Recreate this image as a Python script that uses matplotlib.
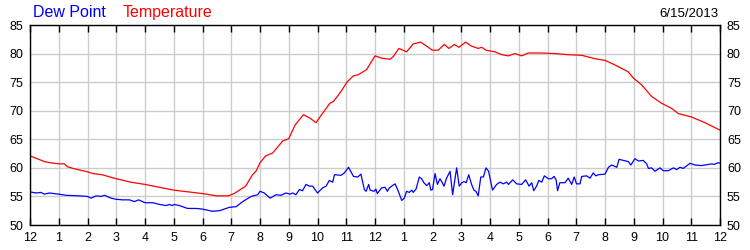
import matplotlib
matplotlib.use('Agg')
import matplotlib.pyplot as plt

plt.rcParams['font.family'] = ['Liberation Sans', 'DejaVu Sans']

hour_labels = ["12", "1", "2", "3", "4", "5", "6", "7", "8", "9", "10", "11",
               "12", "1", "2", "3", "4", "5", "6", "7", "8", "9", "10", "11", "12"]

# temperature readings (hours since midnight, deg F)
temp_hours = [0, 0.5, 0.7, 1.0, 1.2, 1.3, 1.5, 2.0, 2.2, 2.5, 3.0, 3.5, 4.0, 4.5,
              5.0, 5.5, 6.0, 6.5, 6.9, 7.1, 7.5, 7.74, 7.86, 8.0, 8.2, 8.44, 8.79,
              9.0, 9.22, 9.51, 9.74, 9.95, 10.14, 10.43, 10.55, 10.78, 11.04, 11.25,
              11.42, 11.71, 12.0, 12.23, 12.52, 12.64, 12.83, 13.1, 13.33, 13.59,
              13.74, 13.99, 14.2, 14.41, 14.57, 14.76, 14.92, 15.15, 15.36, 15.59,
              15.71, 15.86, 16.17, 16.41, 16.64, 16.87, 17.1, 17.33, 17.8, 18.26,
              18.72, 19.19, 19.65, 20.0, 20.35, 20.81, 20.99, 21.28, 21.62, 21.97,
              22.32, 22.55, 23.01, 23.48, 24.0]
temp_vals = [62.1, 61.1, 60.9, 60.7, 60.7, 60.2, 59.9, 59.3, 59.0, 58.8, 58.1, 57.5,
             57.1, 56.6, 56.1, 55.8, 55.5, 55.1, 55.1, 55.5, 56.8, 58.8, 59.4, 60.9,
             62.1, 62.6, 64.7, 65.1, 67.5, 69.3, 68.7, 67.9, 69.3, 71.3, 71.6, 73.1,
             75.1, 76.1, 76.3, 77.2, 79.6, 79.2, 79.0, 79.5, 80.9, 80.3, 81.7, 82.0,
             81.5, 80.6, 80.6, 81.6, 80.9, 81.6, 81.1, 82.0, 81.3, 80.9, 81.1, 80.6,
             80.3, 79.8, 79.6, 80.0, 79.6, 80.1, 80.1, 80.0, 79.8, 79.7, 79.1, 78.8,
             78.0, 76.8, 75.7, 74.5, 72.5, 71.3, 70.4, 69.5, 68.9, 67.9, 66.6]

# dew point readings
dew_hours = [0, 0.21, 0.38, 0.5, 0.67, 1.0, 1.25, 1.72, 2.0, 2.12, 2.3, 2.47, 2.59,
             2.82, 3.0, 3.22, 3.46, 3.63, 3.78, 4.0, 4.27, 4.5, 4.73, 4.85, 4.94,
             5.02, 5.19, 5.48, 5.77, 5.98, 6.35, 6.59, 6.94, 7.17, 7.4, 7.69, 7.92,
             8.0, 8.15, 8.35, 8.56, 8.73, 8.9, 9.04, 9.14, 9.25, 9.37, 9.48, 9.6,
             9.72, 9.83, 10.0, 10.18, 10.3, 10.41, 10.53, 10.59, 10.82, 10.93, 11.08,
             11.25, 11.4, 11.51, 11.63, 11.69, 11.78,
             11.83, 11.97, 12.03, 12.08, 12.23, 12.35, 12.43, 12.5, 12.58, 12.7,
             12.81, 12.93, 13.02, 13.1, 13.19, 13.28, 13.33, 13.43, 13.54, 13.62,
             13.7, 13.8, 13.89, 13.94, 14.0, 14.09, 14.17, 14.26, 14.32, 14.4,
             14.49, 14.61, 14.7, 14.84, 14.93, 15.02, 15.1, 15.17, 15.26, 15.36,
             15.44, 15.51, 15.59, 15.68, 15.77, 15.86, 15.95, 16.09, 16.23, 16.35,
             16.46, 16.58, 16.64, 16.79, 16.93, 17.1, 17.24, 17.36, 17.45, 17.52,
             17.62, 17.7, 17.8, 17.89, 18.03, 18.14, 18.23, 18.3, 18.35, 18.43,
             18.61, 18.72, 18.84, 18.93, 19.01, 19.13, 19.19, 19.36, 19.48, 19.59,
             19.68, 19.77, 20.0, 20.12, 20.23, 20.41, 20.49, 20.64, 20.81, 20.9,
             21.04, 21.16, 21.33, 21.45, 21.51, 21.62, 21.74, 21.91, 22.03, 22.2,
             22.38, 22.49, 22.61, 22.72, 22.96, 23.13, 23.36, 23.59, 23.71, 23.8,
             23.94, 24.0]
dew_vals = [55.8, 55.6, 55.7, 55.4, 55.6, 55.4, 55.2, 55.1, 55.0, 54.7, 55.1, 55.0,
            55.2, 54.7, 54.5, 54.4, 54.4, 54.1, 54.4, 53.9, 53.9, 53.6, 53.4, 53.6,
            53.4, 53.6, 53.4, 52.9, 52.9, 52.8, 52.4, 52.5, 53.1, 53.2, 54.1, 55.0,
            55.3, 55.9, 55.6, 54.7, 55.3, 55.2, 55.6, 55.4, 55.6, 55.3, 56.2, 56.0,
            57.1, 56.8, 56.8, 55.6, 56.5, 56.8, 57.8, 57.5, 58.8, 58.7, 59.1, 60.1,
            58.5, 58.4, 58.9, 56.2, 55.9, 57.1,
            56.1, 55.9, 56.3, 55.5, 56.5, 56.6, 55.9, 56.5, 56.8, 57.2,
            55.9, 54.3, 54.7, 55.9, 55.7, 56.1, 55.7, 56.3, 58.4, 58.1,
            57.4, 56.9, 57.4, 56.1, 56.2, 59.0, 57.1, 58.1, 57.6, 56.8,
            58.2, 59.4, 55.3, 60.0, 56.8, 57.4, 57.6, 57.4, 58.8, 57.1,
            56.1, 55.9, 55.1, 58.4, 58.4, 60.0, 59.4, 56.1, 57.1, 57.5,
            57.2, 57.5, 57.1, 57.9, 57.2, 57.1, 57.9, 56.8, 57.4, 56.0,
            56.8, 57.8, 57.5, 58.6, 58.1, 58.1, 58.5, 57.9, 56.0, 57.4,
            57.4, 58.2, 57.1, 58.4, 57.2, 57.2, 58.5, 58.6, 58.2, 59.1,
            58.6, 58.8, 58.9, 60.1, 60.5, 60.1, 61.5, 61.3, 61.1, 60.5,
            61.6, 61.2, 61.3, 60.7, 59.9, 60.0, 59.4, 60.0, 59.5, 59.5,
            60.0, 59.7, 60.1, 59.9, 60.8, 60.5, 60.4, 60.6, 60.7, 60.6,
            60.9, 60.8]

fig = plt.figure(figsize=(7.5, 2.5), dpi=100)
ax = fig.add_axes([30/750, 25/250, 690/750, 200/250])

ax.plot(temp_hours, temp_vals, color='#ff0000', lw=0.9)
ax.plot(dew_hours, dew_vals, color='#0000ff', lw=0.9)

ax.set_xlim(0, 24)
ax.set_ylim(50, 85)
ax.set_xticks(range(25))
ax.set_xticklabels(hour_labels)
ax.set_yticks(range(50, 90, 5))
ax.grid(True, color='#cccccc', lw=1.0)
ax.set_axisbelow(True)

ax.tick_params(axis='x', direction='in', length=5, width=1, top=True, bottom=True,
               labelsize=9, pad=5, colors='black')
ax.tick_params(axis='y', length=0, labelsize=9, pad=5, left=True, right=True,
               labelleft=True, labelright=True, colors='black')
for s in ax.spines.values():
    s.set_linewidth(1.0)
    s.set_color('black')

fig.text(33/750, 1 - 17/250, 'Dew Point', color='#0000ff', fontsize=11.5, va='baseline')
fig.text(123/750, 1 - 17/250, 'Temperature', color='#ff0000', fontsize=11.5, va='baseline')
fig.text(718/750, 1 - 17/250, '6/15/2013', color='black', fontsize=9.5, va='baseline', ha='right')

plt.savefig('out.png', dpi=100)
